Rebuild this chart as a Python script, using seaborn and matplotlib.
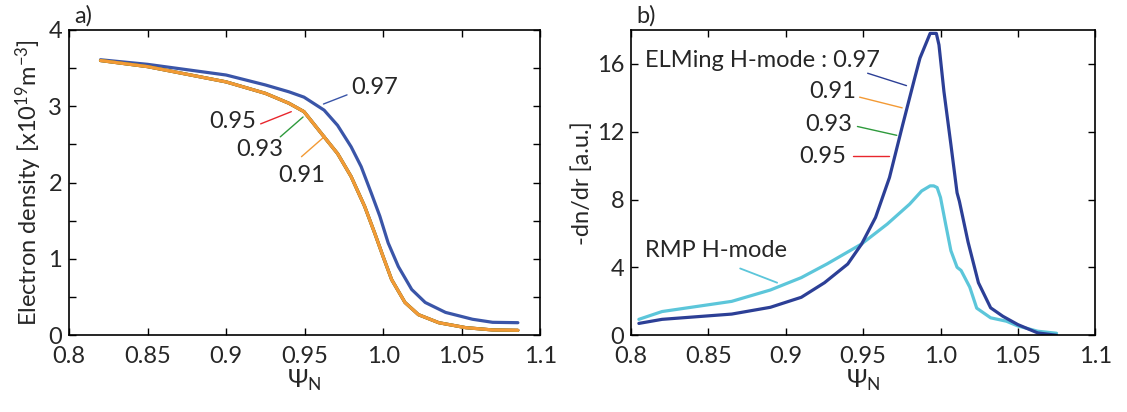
"""Density profiles and gradients: ELMing vs RMP H-mode."""
import matplotlib
matplotlib.use("Agg")
import matplotlib.pyplot as plt
import pandas as pd
import seaborn as sns

# panel a) electron density profiles
psi_097 = [0.82, 0.85, 0.90, 0.925, 0.94, 0.9496, 0.9624, 0.971, 0.9796, 0.986, 0.9925, 0.9979,
           1.0032, 1.0097, 1.0182, 1.0268, 1.0397, 1.0569, 1.0697, 1.0858]
ne_097 = [3.61, 3.55, 3.41, 3.28, 3.19, 3.12, 2.95, 2.75, 2.47, 2.21, 1.86, 1.56,
          1.21, 0.90, 0.60, 0.43, 0.30, 0.21, 0.17, 0.165]
psi_091 = [0.82, 0.85, 0.90, 0.925, 0.94, 0.9496, 0.9624, 0.971, 0.9796, 0.9882, 0.9946, 1.0,
           1.0054, 1.0139, 1.0225, 1.0354, 1.0526, 1.0697, 1.0858]
ne_091 = [3.60, 3.52, 3.32, 3.17, 3.04, 2.93, 2.60, 2.38, 2.08, 1.69, 1.34, 1.03,
          0.73, 0.43, 0.27, 0.165, 0.10, 0.07, 0.065]

# panel b) -dn/dr
psi_elm = [0.805, 0.82, 0.865, 0.89, 0.91, 0.925, 0.94, 0.949, 0.958, 0.967, 0.9756, 0.9833,
           0.9867, 0.9933, 0.9973, 0.999, 1.0022, 1.0067, 1.0107, 1.0122, 1.0178, 1.0245,
           1.0324, 1.0403, 1.05, 1.0628, 1.075]
grad_elm = [0.7, 0.94, 1.25, 1.65, 2.24, 3.1, 4.2, 5.38, 6.95, 9.3, 12.43, 15.16, 16.34, 17.8,
            17.8, 17.12, 14.38, 11.25, 8.4, 7.9, 5.5, 3.1, 1.62, 1.12, 0.63, 0.14, 0.0]
psi_rmp = [0.805, 0.82, 0.865, 0.89, 0.91, 0.9267, 0.9489, 0.9656, 0.98, 0.9878, 0.9933, 0.9956,
           0.9978, 1.0, 1.0033, 1.0067, 1.0107, 1.0133, 1.0189, 1.0234, 1.0324, 1.0426, 1.05,
           1.0628, 1.075]
grad_rmp = [0.94, 1.4, 2.0, 2.67, 3.4, 4.21, 5.38, 6.56, 7.73, 8.51, 8.81, 8.81, 8.71, 8.12,
            6.56, 4.99, 4.01, 3.82, 2.84, 1.6, 1.03, 0.83, 0.55, 0.24, 0.12]

x_ticks = [0.8, 0.85, 0.9, 0.95, 1.0, 1.05, 1.1]
x_ticklabels = ["0.8", "0.85", "0.9", "0.95", "1.0", "1.05", "1.1"]

BLUE = "#3A55A8"
DARK_BLUE = "#2C3F96"
ORANGE = "#F39A35"
RED = "#E8262D"
GREEN = "#2E9A3C"
CYAN = "#5CC6DA"

sns.set_theme(style="ticks")
plt.rcParams["font.family"] = ["Lato", "DejaVu Sans"]
plt.rcParams["mathtext.fontset"] = "custom"
plt.rcParams["mathtext.rm"] = "Lato"
plt.rcParams["mathtext.it"] = "Lato:italic"
FS = 17

fig = plt.figure(figsize=(11.27, 4.12), dpi=100)
ax_a = fig.add_axes([0.0613, 0.1862, 0.4180, 0.741])
ax_b = fig.add_axes([0.5600, 0.1862, 0.4118, 0.741])

dens = pd.DataFrame({"psi": psi_097 + psi_091,
                     "ne": ne_097 + ne_091,
                     "case": ["0.97"] * len(psi_097) + ["0.91"] * len(psi_091)})
# 0.95 and 0.93 profiles lie underneath the 0.91 curve
for case, col in [("0.97", BLUE), ("0.95", RED), ("0.93", GREEN), ("0.91", ORANGE)]:
    src = "0.97" if case == "0.97" else "0.91"
    sns.lineplot(data=dens[dens["case"] == src], x="psi", y="ne", ax=ax_a, color=col, lw=2.3,
                 estimator=None, sort=False)

grad = pd.DataFrame({"psi": psi_elm + psi_rmp,
                     "g": grad_elm + grad_rmp,
                     "mode": ["ELM"] * len(psi_elm) + ["RMP"] * len(psi_rmp)})
sns.lineplot(data=grad[grad["mode"] == "RMP"], x="psi", y="g", ax=ax_b, color=CYAN, lw=2.3,
             estimator=None, sort=False)
sns.lineplot(data=grad[grad["mode"] == "ELM"], x="psi", y="g", ax=ax_b, color=DARK_BLUE, lw=2.3,
             estimator=None, sort=False)

for ax in (ax_a, ax_b):
    ax.set_xlim(0.8, 1.1)
    ax.set_xticks(x_ticks)
    ax.set_xticklabels(x_ticklabels)
    ax.tick_params(which="both", direction="in", top=True, right=True, labelsize=FS,
                   length=5, width=1.0, color="black", pad=5)
    ax.tick_params(axis="x", pad=8)
    for sp in ax.spines.values():
        sp.set_linewidth(1.2)
        sp.set_color("black")
    ax.set_xlabel(r"$\Psi_{\rm N}$", fontsize=FS + 1, labelpad=0)

ax_a.set_ylim(0, 4)
ax_a.set_yticks([0, 1, 2, 3, 4])
ax_a.set_yticks([0.5, 1.5, 2.5, 3.5], minor=True)
ax_a.set_ylabel(r"Electron density [x10$^{19}$m$^{-3}$]", fontsize=FS, labelpad=3)

ax_b.set_ylim(0, 18)
ax_b.set_yticks([0, 4, 8, 12, 16])
ax_b.set_ylabel("-dn/dr [a.u.]", fontsize=FS, labelpad=3)

fig.text(0.0655, 0.962, "a)", fontsize=FS, va="center")
fig.text(0.5643, 0.962, "b)", fontsize=FS, va="center")

# labels, panel a
ax_a.text(0.980, 3.25, "0.97", fontsize=FS, ha="left", va="center")
ax_a.plot([0.962, 0.977], [3.03, 3.15], color=BLUE, lw=1)
ax_a.text(0.919, 2.80, "0.95", fontsize=FS, ha="right", va="center")
ax_a.plot([0.922, 0.9415], [2.77, 2.93], color=RED, lw=1)
ax_a.text(0.9365, 2.43, "0.93", fontsize=FS, ha="right", va="center")
ax_a.plot([0.9345, 0.949], [2.60, 2.86], color=GREEN, lw=1)
ax_a.text(0.963, 2.10, "0.91", fontsize=FS, ha="right", va="center")
ax_a.plot([0.948, 0.963], [2.34, 2.61], color=ORANGE, lw=1)

# labels, panel b
ax_b.text(0.8088, 16.23, "ELMing H-mode : 0.97", fontsize=FS, ha="left", va="center")
ax_b.plot([0.9529, 0.978], [15.45, 14.72], color=DARK_BLUE, lw=1)
ax_b.text(0.9454, 14.39, "0.91", fontsize=FS, ha="right", va="center")
ax_b.plot([0.9477, 0.9752], [14.04, 13.41], color=ORANGE, lw=1)
ax_b.text(0.943, 12.43, "0.93", fontsize=FS, ha="right", va="center")
ax_b.plot([0.9463, 0.9717], [12.31, 11.79], color=GREEN, lw=1)
ax_b.text(0.9389, 10.57, "0.95", fontsize=FS, ha="right", va="center")
ax_b.plot([0.9436, 0.9665], [10.59, 10.59], color=RED, lw=1)
ax_b.text(0.8088, 4.98, "RMP H-mode", fontsize=FS, ha="left", va="center")
ax_b.plot([0.8705, 0.8944], [3.94, 3.10], color=CYAN, lw=1.3)

fig.savefig("out.png", dpi=100)
